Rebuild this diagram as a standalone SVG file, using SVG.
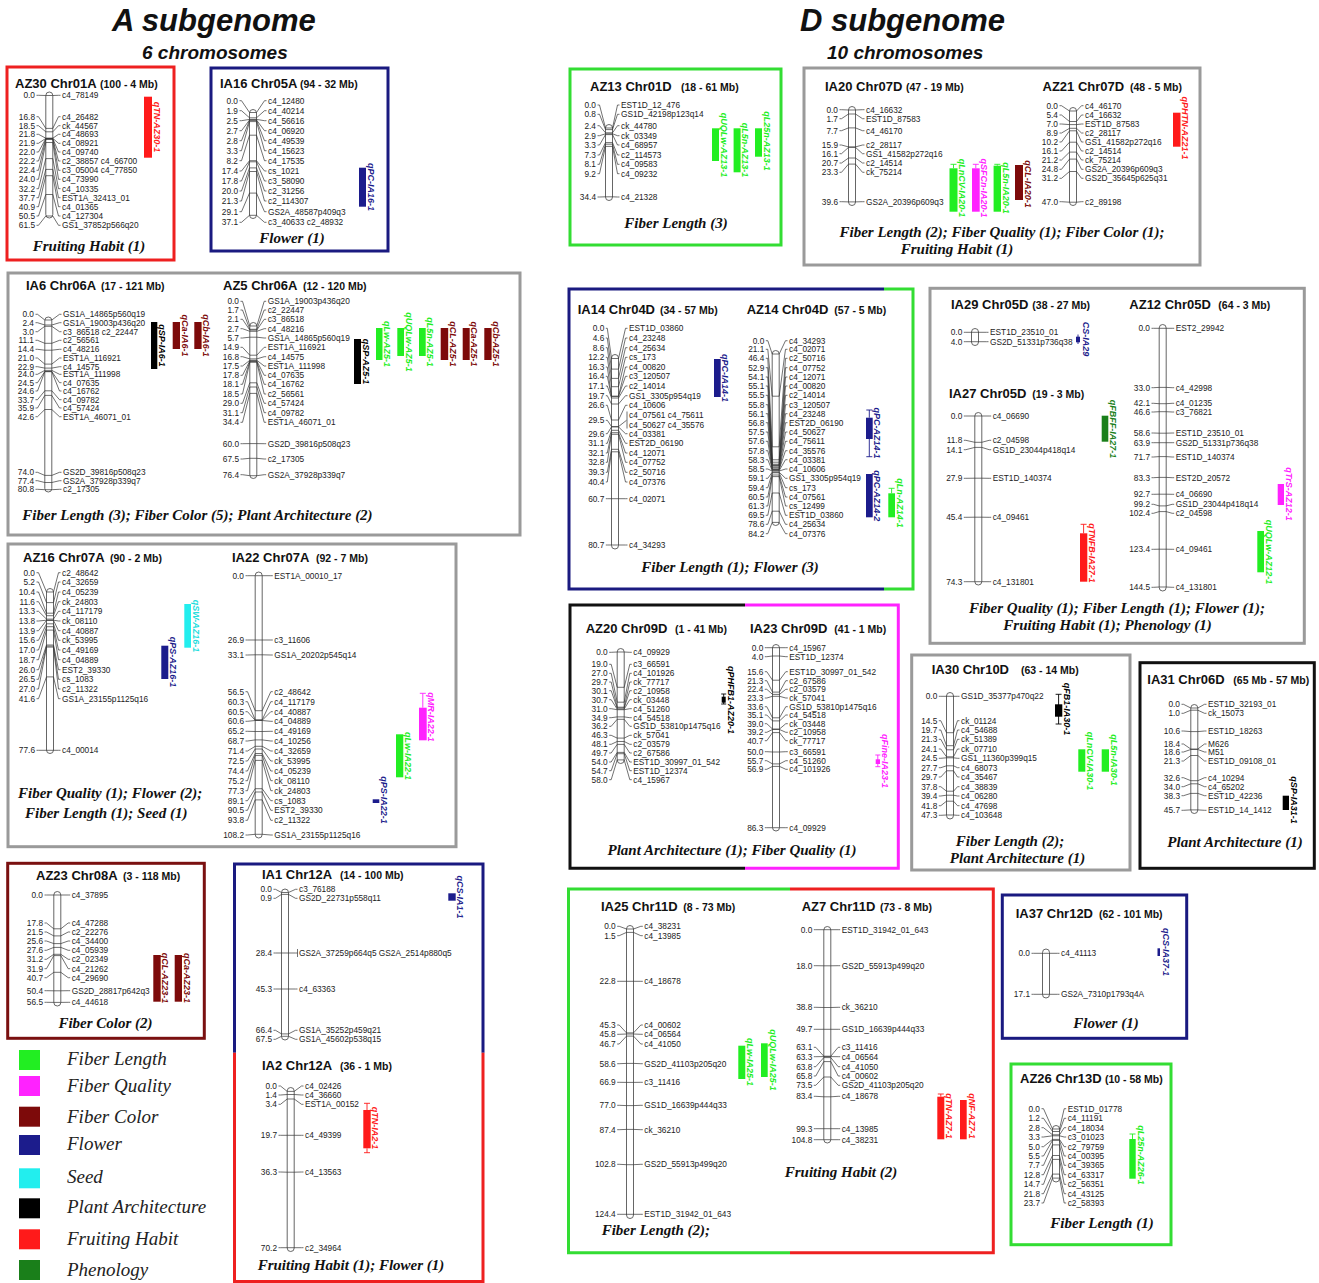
<svg xmlns="http://www.w3.org/2000/svg" width="1319" height="1283" viewBox="0 0 1319 1283">
<style>
text{font-family:"Liberation Sans",Arial,sans-serif}
.n{font-size:8.3px;text-anchor:end;fill:#222}
.m{font-size:8.3px;fill:#222}
.t{font-size:13px;font-weight:bold;fill:#111}
.r{font-size:10.5px;font-weight:bold;fill:#111}
.f{font-family:"Liberation Serif","Times New Roman",serif;font-size:15px;font-weight:bold;font-style:italic;text-anchor:middle;fill:#111}
.fs{text-anchor:start}
.q{font-size:9px;font-weight:bold;font-style:italic;text-anchor:middle}
.ch{fill:#fff;stroke:#555;stroke-width:0.9}
.ld path{fill:none;stroke:#333;stroke-width:0.7}
.lg{font-family:"Liberation Serif","Times New Roman",serif;font-size:19px;font-style:italic;fill:#222}
.h1{font-size:31px;font-weight:bold;font-style:italic;fill:#111}
.h2{font-size:19px;font-weight:bold;font-style:italic;fill:#111}
.bd{fill:none;stroke-width:3}
.wk{fill:none;stroke-width:0.9}
.G{fill:#22ee22}.M{fill:#ff22ff}.C{fill:#7d0a0a}.N{fill:#1c1c8c}.S{fill:#22eeee}.K{fill:#000}.R{fill:#ff1a1a}.P{fill:#1a7f1a}
</style>
<rect width="1319" height="1283" fill="#fff"/>
<g id="headings">
<text class="h1" x="112" y="31">A subgenome</text>
<text class="h2" x="142" y="59">6 chromosomes</text>
<text class="h1" x="800" y="31">D subgenome</text>
<text class="h2" x="827" y="59">10 chromosomes</text>
</g>

<!-- AZ30 -->
<g id="p-az30">
<rect class="bd" x="7" y="67" width="167" height="193" stroke="#ee2020"/>
<text class="t" x="15" y="88">AZ30 Chr01A</text><text class="r" x="100" y="88">(100 - 4 Mb)</text>
<rect class="ch" x="45.8" y="92" width="7" height="126" rx="3.5"/>
<text class="n"><tspan x="35" y="98.3">0.0</tspan><tspan x="35" y="119.7">16.8</tspan><tspan x="35" y="128.7">18.5</tspan><tspan x="35" y="137.3">21.8</tspan><tspan x="35" y="146.3">21.9</tspan><tspan x="35" y="155">22.0</tspan><tspan x="35" y="164">22.2</tspan><tspan x="35" y="173.3">22.4</tspan><tspan x="35" y="182.3">24.0</tspan><tspan x="35" y="191.7">32.2</tspan><tspan x="35" y="200.7">37.7</tspan><tspan x="35" y="209.7">40.9</tspan><tspan x="35" y="219">50.5</tspan><tspan x="35" y="228.3">61.5</tspan></text>
<text class="m"><tspan x="62" y="98.3">c4_78149</tspan><tspan x="62" y="119.7">c4_26482</tspan><tspan x="62" y="128.7">ck_44567</tspan><tspan x="62" y="137.3">c4_48693</tspan><tspan x="62" y="146.3">c4_08921</tspan><tspan x="62" y="155">c4_09740</tspan><tspan x="62" y="164">c2_38857 c4_66700</tspan><tspan x="62" y="173.3">c3_05004 c4_77850</tspan><tspan x="62" y="182.3">c4_73990</tspan><tspan x="62" y="191.7">c4_10335</tspan><tspan x="62" y="200.7">EST1A_32413_01</tspan><tspan x="62" y="209.7">c4_01365</tspan><tspan x="62" y="219">c4_127304</tspan><tspan x="62" y="228.3">GS1_37852p566q20</tspan></text>
<rect class="R" x="144" y="96.7" width="8" height="61"/>
<text class="q R" transform="translate(153.5,127) rotate(90)">qTN-AZ30-1</text>
<text class="f" x="89" y="251">Fruiting Habit (1)</text>
</g>

<!-- IA16 -->
<g id="p-ia16">
<rect class="bd" x="211" y="68" width="177" height="183" stroke="#1a1a80"/>
<text class="t" x="220" y="88">IA16 Chr05A</text><text class="r" x="300" y="88">(94 - 32 Mb)</text>
<rect class="ch" x="249.5" y="109.5" width="7" height="109" rx="3.5"/>
<text class="n"><tspan x="238" y="103.7">0.0</tspan><tspan x="238" y="113.7">1.9</tspan><tspan x="238" y="123.7">2.5</tspan><tspan x="238" y="133.7">2.7</tspan><tspan x="238" y="143.7">2.8</tspan><tspan x="238" y="153.7">3.3</tspan><tspan x="238" y="163.7">8.2</tspan><tspan x="238" y="174">17.4</tspan><tspan x="238" y="184">17.8</tspan><tspan x="238" y="194">20.0</tspan><tspan x="238" y="204">21.3</tspan><tspan x="238" y="214.7">29.1</tspan><tspan x="238" y="225.3">37.1</tspan></text>
<text class="m"><tspan x="268" y="103.7">c4_12480</tspan><tspan x="268" y="113.7">c4_40214</tspan><tspan x="268" y="123.7">c4_56616</tspan><tspan x="268" y="133.7">c4_06920</tspan><tspan x="268" y="143.7">c4_49539</tspan><tspan x="268" y="153.7">c4_15623</tspan><tspan x="268" y="163.7">c4_17535</tspan><tspan x="268" y="174">cs_1021</tspan><tspan x="268" y="184">c3_58090</tspan><tspan x="268" y="194">c2_31256</tspan><tspan x="268" y="204">c2_114307</tspan><tspan x="268" y="214.7">GS2A_48587p409q3</tspan><tspan x="268" y="225.3">c3_40633 c2_48932</tspan></text>
<rect class="N" x="359" y="167.7" width="7" height="39"/>
<text class="q N" transform="translate(367.5,187) rotate(90)">qPC-IA16-1</text>
<text class="f" x="292" y="243">Flower (1)</text>
</g>

<!-- IA6 / AZ5 -->
<g id="p-ia6-az5">
<rect class="bd" x="8" y="273" width="512" height="262" stroke="#9a9a9a"/>
<text class="t" x="26" y="290">IA6 Chr06A</text><text class="r" x="101" y="290">(17 - 121 Mb)</text>
<rect class="ch" x="44.8" y="317" width="7" height="175" rx="3.5"/>
<text class="n"><tspan x="34" y="317.3">0.0</tspan><tspan x="34" y="325.7">2.4</tspan><tspan x="34" y="334.7">3.0</tspan><tspan x="34" y="343.3">11.1</tspan><tspan x="34" y="352.3">14.4</tspan><tspan x="34" y="361">21.0</tspan><tspan x="34" y="369.7">22.9</tspan><tspan x="34" y="377.3">24.0</tspan><tspan x="34" y="385.7">24.5</tspan><tspan x="34" y="394">24.6</tspan><tspan x="34" y="402.7">33.7</tspan><tspan x="34" y="411">35.9</tspan><tspan x="34" y="419.7">42.6</tspan><tspan x="34" y="475.3">74.0</tspan><tspan x="34" y="483.7">77.4</tspan><tspan x="34" y="492.3">80.8</tspan></text>
<text class="m"><tspan x="63" y="317.3">GS1A_14865p560q19</tspan><tspan x="63" y="325.7">GS1A_19003p436q20</tspan><tspan x="63" y="334.7">c3_86518 c2_22447</tspan><tspan x="63" y="343.3">c2_56561</tspan><tspan x="63" y="352.3">c4_48216</tspan><tspan x="63" y="361">EST1A_116921</tspan><tspan x="63" y="369.7">c4_14575</tspan><tspan x="63" y="377.3">EST1A_111998</tspan><tspan x="63" y="385.7">c4_07635</tspan><tspan x="63" y="394">c4_16762</tspan><tspan x="63" y="402.7">c4_09782</tspan><tspan x="63" y="411">c4_57424</tspan><tspan x="63" y="419.7">EST1A_46071_01</tspan><tspan x="63" y="475.3">GS2D_39816p508q23</tspan><tspan x="63" y="483.7">GS2A_37928p339q7</tspan><tspan x="63" y="492.3">c2_17305</tspan></text>
<rect class="K" x="151" y="322" width="6.3" height="47"/>
<text class="q K" transform="translate(158.8,345.5) rotate(90)">qSP-IA6-1</text>
<rect class="C" x="172.7" y="322" width="7.3" height="27"/>
<text class="q C" transform="translate(181.5,335.5) rotate(90)">qCa-IA6-1</text>
<rect class="C" x="194.3" y="322" width="7.3" height="27"/>
<text class="q C" transform="translate(203,335.5) rotate(90)">qCb-IA6-1</text>

<text class="t" x="223" y="290">AZ5 Chr06A</text><text class="r" x="303" y="290">(12 - 120 Mb)</text>
<rect class="ch" x="249.8" y="322.5" width="7" height="156" rx="3.5"/>
<text class="n"><tspan x="239" y="304.3">0.0</tspan><tspan x="239" y="313">1.7</tspan><tspan x="239" y="322.3">2.1</tspan><tspan x="239" y="331.7">2.7</tspan><tspan x="239" y="341">5.7</tspan><tspan x="239" y="350.3">14.9</tspan><tspan x="239" y="359.7">16.8</tspan><tspan x="239" y="369">17.5</tspan><tspan x="239" y="378.3">17.8</tspan><tspan x="239" y="387.3">18.1</tspan><tspan x="239" y="397">18.5</tspan><tspan x="239" y="406.3">29.0</tspan><tspan x="239" y="415.7">31.1</tspan><tspan x="239" y="425.3">34.4</tspan><tspan x="239" y="446.7">60.0</tspan><tspan x="239" y="462">67.5</tspan><tspan x="239" y="477.7">76.4</tspan></text>
<text class="m"><tspan x="267.7" y="304.3">GS1A_19003p436q20</tspan><tspan x="267.7" y="313">c2_22447</tspan><tspan x="267.7" y="322.3">c3_86518</tspan><tspan x="267.7" y="331.7">c4_48216</tspan><tspan x="267.7" y="341">GS1A_14865p560q19</tspan><tspan x="267.7" y="350.3">EST1A_116921</tspan><tspan x="267.7" y="359.7">c4_14575</tspan><tspan x="267.7" y="369">EST1A_111998</tspan><tspan x="267.7" y="378.3">c4_07635</tspan><tspan x="267.7" y="387.3">c4_16762</tspan><tspan x="267.7" y="397">c2_56561</tspan><tspan x="267.7" y="406.3">c4_57424</tspan><tspan x="267.7" y="415.7">c4_09782</tspan><tspan x="267.7" y="425.3">EST1A_46071_01</tspan><tspan x="267.7" y="446.7">GS2D_39816p508q23</tspan><tspan x="267.7" y="462">c2_17305</tspan><tspan x="267.7" y="477.7">GS2A_37928p339q7</tspan></text>
<rect class="K" x="354" y="339" width="7" height="45"/>
<text class="q K" transform="translate(362.5,361.5) rotate(90)">qSP-AZ5-1</text>
<rect class="G" x="376" y="328" width="6.5" height="32"/>
<text class="q G" transform="translate(384,344) rotate(90)">qLw-AZ5-1</text>
<rect class="G" x="397.3" y="328" width="6.7" height="28"/>
<text class="q G" transform="translate(405.5,342) rotate(90)">qUQLw-AZ5-1</text>
<rect class="G" x="419" y="328" width="6.7" height="28"/>
<text class="q G" transform="translate(427.2,342) rotate(90)">qL5n-AZ5-1</text>
<rect class="C" x="440.7" y="328" width="7.5" height="32"/>
<text class="q C" transform="translate(449.7,344) rotate(90)">qCL-AZ5-1</text>
<rect class="C" x="462.7" y="328" width="7" height="32"/>
<text class="q C" transform="translate(471.2,344) rotate(90)">qCa-AZ5-1</text>
<rect class="C" x="484.3" y="328" width="7.3" height="32"/>
<text class="q C" transform="translate(493,344) rotate(90)">qCb-AZ5-1</text>
<text class="f" x="197.5" y="520">Fiber Length (3); Fiber Color (5);  Plant Architecture (2)</text>
</g>

<!-- AZ16 / IA22 -->
<g id="p-az16-ia22">
<rect class="bd" x="8" y="544" width="448" height="302.7" stroke="#9a9a9a"/>
<text class="t" x="23" y="561.5">AZ16 Chr07A</text><text class="r" x="110" y="561.5">(90 - 2 Mb)</text>
<rect class="ch" x="46.5" y="588.5" width="7" height="165" rx="3.5"/>
<text class="n"><tspan x="35" y="575.7">0.0</tspan><tspan x="35" y="585">5.2</tspan><tspan x="35" y="595">10.4</tspan><tspan x="35" y="604.7">11.6</tspan><tspan x="35" y="614.3">13.3</tspan><tspan x="35" y="624">13.8</tspan><tspan x="35" y="633.7">13.9</tspan><tspan x="35" y="643.3">15.6</tspan><tspan x="35" y="653">17.0</tspan><tspan x="35" y="662.7">18.7</tspan><tspan x="35" y="672.7">26.0</tspan><tspan x="35" y="682.3">26.5</tspan><tspan x="35" y="692">27.0</tspan><tspan x="35" y="701.7">41.6</tspan><tspan x="35" y="753.3">77.6</tspan></text>
<text class="m"><tspan x="62" y="575.7">c2_48642</tspan><tspan x="62" y="585">c4_32659</tspan><tspan x="62" y="595">c4_05239</tspan><tspan x="62" y="604.7">ck_24803</tspan><tspan x="62" y="614.3">c4_117179</tspan><tspan x="62" y="624">ck_08110</tspan><tspan x="62" y="633.7">c4_40887</tspan><tspan x="62" y="643.3">ck_53995</tspan><tspan x="62" y="653">c4_49169</tspan><tspan x="62" y="662.7">c4_04889</tspan><tspan x="62" y="672.7">EST2_39330</tspan><tspan x="62" y="682.3">cs_1083</tspan><tspan x="62" y="692">c2_11322</tspan><tspan x="62" y="701.7">GS1A_23155p1125q16</tspan><tspan x="62" y="753.3">c4_00014</tspan></text>
<rect class="S" x="184.3" y="604" width="6.7" height="43.7"/>
<text class="q" fill="#22dddd" transform="translate(192.5,626) rotate(90)">qSW-AZ16-1</text>
<rect class="N" x="161.3" y="645.7" width="7" height="33.3"/>
<text class="q N" transform="translate(169.8,662) rotate(90)">qPS-AZ16-1</text>

<text class="t" x="232" y="561.5">IA22 Chr07A</text><text class="r" x="316" y="561.5">(92 - 7 Mb)</text>
<rect class="ch" x="255.2" y="572" width="7" height="266" rx="3.5"/>
<text class="n"><tspan x="244" y="578.7">0.0</tspan><tspan x="244" y="643">26.9</tspan><tspan x="244" y="658">33.1</tspan><tspan x="244" y="694.7">56.5</tspan><tspan x="244" y="704.7">60.3</tspan><tspan x="244" y="714.7">60.5</tspan><tspan x="244" y="724.3">60.6</tspan><tspan x="244" y="734.3">65.2</tspan><tspan x="244" y="744">68.7</tspan><tspan x="244" y="754">71.4</tspan><tspan x="244" y="764">72.5</tspan><tspan x="244" y="774">74.4</tspan><tspan x="244" y="783.7">75.2</tspan><tspan x="244" y="793.7">77.3</tspan><tspan x="244" y="803.7">89.1</tspan><tspan x="244" y="813.3">90.5</tspan><tspan x="244" y="823.3">93.8</tspan><tspan x="244" y="838">108.2</tspan></text>
<text class="m"><tspan x="274.3" y="578.7">EST1A_00010_17</tspan><tspan x="274.3" y="643">c3_11606</tspan><tspan x="274.3" y="658">GS1A_20202p545q14</tspan><tspan x="274.3" y="694.7">c2_48642</tspan><tspan x="274.3" y="704.7">c4_117179</tspan><tspan x="274.3" y="714.7">c4_40887</tspan><tspan x="274.3" y="724.3">c4_04889</tspan><tspan x="274.3" y="734.3">c4_49169</tspan><tspan x="274.3" y="744">c4_10256</tspan><tspan x="274.3" y="754">c4_32659</tspan><tspan x="274.3" y="764">ck_53995</tspan><tspan x="274.3" y="774">c4_05239</tspan><tspan x="274.3" y="783.7">ck_08110</tspan><tspan x="274.3" y="793.7">ck_24803</tspan><tspan x="274.3" y="803.7">cs_1083</tspan><tspan x="274.3" y="813.3">EST2_39330</tspan><tspan x="274.3" y="823.3">c2_11322</tspan><tspan x="274.3" y="838">GS1A_23155p1125q16</tspan></text>
<path class="wk" stroke="#ff22ff" d="M422.8 693.3V707.7M419.8 693.3H425.8"/>
<rect class="M" x="419" y="707.7" width="7.7" height="32.6"/>
<text class="q M" transform="translate(428.2,717) rotate(90)">qMR-IA22-1</text>
<rect class="G" x="396" y="734.3" width="7.3" height="43"/>
<text class="q G" transform="translate(404.8,756) rotate(90)">qLw-IA22-1</text>
<rect class="N" x="372.7" y="799.3" width="6.6" height="3.7"/>
<text class="q N" transform="translate(380.8,800) rotate(90)">qPS-IA22-1</text>
<text class="f fs" x="18" y="798">Fiber Quality (1); Flower (2);</text>
<text class="f fs" x="25" y="818">Fiber Length (1); Seed (1)</text>
</g>

<!-- AZ23 -->
<g id="p-az23">
<rect class="bd" x="7.7" y="863.3" width="196.6" height="175" stroke="#7a1010"/>
<text class="t" x="36" y="880">AZ23 Chr08A</text><text class="r" x="123" y="880">(3 - 118 Mb)</text>
<rect class="ch" x="53.8" y="891.5" width="7" height="114.5" rx="3.5"/>
<text class="n"><tspan x="43" y="898">0.0</tspan><tspan x="43" y="926">17.8</tspan><tspan x="43" y="935">21.5</tspan><tspan x="43" y="944">25.6</tspan><tspan x="43" y="953.3">27.6</tspan><tspan x="43" y="962.3">31.2</tspan><tspan x="43" y="971.7">31.9</tspan><tspan x="43" y="980.7">40.7</tspan><tspan x="43" y="993.7">50.4</tspan><tspan x="43" y="1005.3">56.5</tspan></text>
<text class="m"><tspan x="71.7" y="898">c4_37895</tspan><tspan x="71.7" y="926">c4_47288</tspan><tspan x="71.7" y="935">c2_22276</tspan><tspan x="71.7" y="944">c4_34400</tspan><tspan x="71.7" y="953.3">c4_05939</tspan><tspan x="71.7" y="962.3">c2_02349</tspan><tspan x="71.7" y="971.7">c4_21262</tspan><tspan x="71.7" y="980.7">c4_29690</tspan><tspan x="71.7" y="993.7">GS2D_28817p642q3</tspan><tspan x="71.7" y="1005.3">c4_44618</tspan></text>
<rect class="C" x="153.3" y="955" width="7.4" height="46.7"/>
<text class="q C" transform="translate(162.2,978) rotate(90)">qCL-AZ23-1</text>
<rect class="C" x="174.7" y="955" width="7.3" height="46.7"/>
<text class="q C" transform="translate(183.5,978) rotate(90)">qCa-AZ23-1</text>
<text class="f" x="105.5" y="1028">Fiber Color (2)</text>
</g>

<!-- Legend -->
<g id="legend">
<rect class="G" x="19" y="1050" width="21" height="20"/><text class="lg" x="67" y="1065">Fiber Length</text>
<rect class="M" x="19" y="1076" width="21" height="20"/><text class="lg" x="67" y="1092">Fiber Quality</text>
<rect class="C" x="19" y="1106.7" width="21" height="20"/><text class="lg" x="67" y="1123">Fiber Color</text>
<rect class="N" x="19" y="1135" width="21" height="20"/><text class="lg" x="67" y="1150">Flower</text>
<rect class="S" x="19" y="1168.3" width="21" height="20"/><text class="lg" x="67" y="1183">Seed</text>
<rect class="K" x="19" y="1198.3" width="21" height="20"/><text class="lg" x="67" y="1213">Plant Architecture</text>
<rect class="R" x="19" y="1229.3" width="21" height="20"/><text class="lg" x="67" y="1245">Fruiting Habit</text>
<rect class="P" x="19" y="1260" width="21" height="20"/><text class="lg" x="67" y="1276">Phenology</text>
</g>

<!-- IA1 / IA2 -->
<g id="p-ia1-ia2">
<path class="bd" stroke="#1a1a80" d="M234.5 1052.7V864H483V1052.7"/>
<path class="bd" stroke="#ee2020" d="M234.5 1052.7V1281.5H483V1052.7"/>
<text class="t" x="262" y="879">IA1 Chr12A</text><text class="r" x="340" y="879">(14 - 100 Mb)</text>
<rect class="ch" x="281.5" y="889" width="7" height="151" rx="3.5"/>
<text class="n"><tspan x="272" y="892.3">0.0</tspan><tspan x="272" y="901.3">0.9</tspan><tspan x="272" y="956">28.4</tspan><tspan x="272" y="992">45.3</tspan><tspan x="272" y="1033.3">66.4</tspan><tspan x="272" y="1042.3">67.5</tspan></text>
<text class="m"><tspan x="299" y="892.3">c3_76188</tspan><tspan x="299" y="901.3">GS2D_22731p558q11</tspan><tspan x="299" y="956">GS2A_37259p664q5 GS2A_2514p880q5</tspan><tspan x="299" y="992">c4_63363</tspan><tspan x="299" y="1033.3">GS1A_35252p459q21</tspan><tspan x="299" y="1042.3">GS1A_45602p538q15</tspan></text>
<rect class="N" x="448.3" y="893.3" width="7.4" height="7.4"/>
<text class="q N" transform="translate(457.2,897) rotate(90)">qCS-IA1-1</text>
<text class="t" x="262" y="1070">IA2 Chr12A</text><text class="r" x="340" y="1070">(36 - 1 Mb)</text>
<rect class="ch" x="287.2" y="1087.5" width="7" height="164" rx="3.5"/>
<text class="n"><tspan x="277" y="1089">0.0</tspan><tspan x="277" y="1098">1.4</tspan><tspan x="277" y="1107.3">3.4</tspan><tspan x="277" y="1138.3">19.7</tspan><tspan x="277" y="1175">36.3</tspan><tspan x="277" y="1250.7">70.2</tspan></text>
<text class="m"><tspan x="305" y="1089">c4_02426</tspan><tspan x="305" y="1098">c4_36660</tspan><tspan x="305" y="1107.3">EST1A_00152</tspan><tspan x="305" y="1138.3">c4_49399</tspan><tspan x="305" y="1175">c4_13563</tspan><tspan x="305" y="1250.7">c2_34964</tspan></text>
<path class="wk" stroke="#ff1a1a" d="M367 1103.3V1110M364 1103.3H370M367 1148.3V1152.7M364 1152.7H370"/>
<rect class="R" x="363.3" y="1110" width="7.4" height="38.3"/>
<text class="q R" transform="translate(372.2,1128) rotate(90)">qTN-IA2-1</text>
<text class="f" x="351" y="1270">Fruiting Habit (1); Flower (1)</text>
</g>

<!-- AZ13 -->
<g id="p-az13">
<rect class="bd" x="570" y="69" width="211" height="176" stroke="#33dd33"/>
<text class="t" x="590" y="91">AZ13 Chr01D</text><text class="r" x="681" y="91">(18 - 61 Mb)</text>
<rect class="ch" x="605.5" y="124.5" width="7" height="76" rx="3.5"/>
<text class="n"><tspan x="596" y="108">0.0</tspan><tspan x="596" y="117.3">0.8</tspan><tspan x="596" y="128.7">2.4</tspan><tspan x="596" y="138.7">2.9</tspan><tspan x="596" y="148">3.3</tspan><tspan x="596" y="158">7.3</tspan><tspan x="596" y="167.3">8.1</tspan><tspan x="596" y="176.7">9.2</tspan><tspan x="596" y="200">34.4</tspan></text>
<text class="m"><tspan x="621" y="108">EST1D_12_476</tspan><tspan x="621" y="117.3">GS1D_42198p123q14</tspan><tspan x="621" y="128.7">ck_44780</tspan><tspan x="621" y="138.7">ck_03349</tspan><tspan x="621" y="148">c4_68957</tspan><tspan x="621" y="158">c2_114573</tspan><tspan x="621" y="167.3">c4_09583</tspan><tspan x="621" y="176.7">c4_09232</tspan><tspan x="621" y="200">c4_21328</tspan></text>
<rect class="G" x="712" y="128.3" width="7" height="32.7"/>
<text class="q G" transform="translate(720.5,145) rotate(90)">qUQLw-AZ13-1</text>
<rect class="G" x="733.6" y="128.3" width="7" height="44"/>
<text class="q G" transform="translate(742,150) rotate(90)">qL5n-AZ13-1</text>
<rect class="G" x="755" y="128.3" width="7" height="28.4"/>
<text class="q G" transform="translate(763.5,141) rotate(90)">qL25n-AZ13-1</text>
<text class="f" x="676" y="228">Fiber Length (3)</text>
</g>

<!-- IA20 / AZ21 -->
<g id="p-ia20-az21">
<rect class="bd" x="804" y="68" width="396" height="197" stroke="#9a9a9a"/>
<text class="t" x="825" y="91">IA20 Chr07D</text><text class="r" x="906" y="91">(47 - 19 Mb)</text>
<rect class="ch" x="848.5" y="106.5" width="7" height="99" rx="3.5"/>
<text class="n"><tspan x="838" y="112.7">0.0</tspan><tspan x="838" y="121.7">1.7</tspan><tspan x="838" y="133.7">7.7</tspan><tspan x="838" y="148">15.9</tspan><tspan x="838" y="156.7">16.1</tspan><tspan x="838" y="166">20.7</tspan><tspan x="838" y="175.3">23.3</tspan><tspan x="838" y="204.7">39.6</tspan></text>
<text class="m"><tspan x="866" y="112.7">c4_16632</tspan><tspan x="866" y="121.7">EST1D_87583</tspan><tspan x="866" y="133.7">c4_46170</tspan><tspan x="866" y="148">c2_28117</tspan><tspan x="866" y="156.7">GS1_41582p272q16</tspan><tspan x="866" y="166">c2_14514</tspan><tspan x="866" y="175.3">ck_75214</tspan><tspan x="866" y="204.7">GS2A_20396p609q3</tspan></text>
<path class="wk" stroke="#22ee22" d="M953.5 164.3V168.3M950.5 164.3H956.5M997.3 164.3V165.7M994.3 164.3H1000.3"/>
<path class="wk" stroke="#ff22ff" d="M975.8 164.3V168.3M972.8 164.3H978.8"/>
<rect class="G" x="949.5" y="168.3" width="8" height="43.4"/>
<text class="q G" transform="translate(959,188) rotate(90)">qLnCV-IA20-1</text>
<rect class="M" x="972" y="168.3" width="7.7" height="43.4"/>
<text class="q M" transform="translate(981.2,188) rotate(90)">qSFCn-IA20-1</text>
<rect class="G" x="993.6" y="165.7" width="7.4" height="46"/>
<text class="q G" transform="translate(1002.5,188) rotate(90)">qL5n-IA20-1</text>
<rect class="C" x="1015" y="165" width="8" height="35"/>
<text class="q C" transform="translate(1024.5,184) rotate(90)">qCL-IA20-1</text>

<text class="t" x="1042.5" y="91">AZ21 Chr07D</text><text class="r" x="1130" y="91">(48 - 5 Mb)</text>
<rect class="ch" x="1069.5" y="107.5" width="7" height="98" rx="3.5"/>
<text class="n"><tspan x="1058" y="108.7">0.0</tspan><tspan x="1058" y="118">5.4</tspan><tspan x="1058" y="127">7.0</tspan><tspan x="1058" y="136">8.9</tspan><tspan x="1058" y="145">10.2</tspan><tspan x="1058" y="154">16.1</tspan><tspan x="1058" y="163">21.2</tspan><tspan x="1058" y="172.3">24.8</tspan><tspan x="1058" y="181.3">31.2</tspan><tspan x="1058" y="204.7">47.0</tspan></text>
<text class="m"><tspan x="1085" y="108.7">c4_46170</tspan><tspan x="1085" y="118">c4_16632</tspan><tspan x="1085" y="127">EST1D_87583</tspan><tspan x="1085" y="136">c2_28117</tspan><tspan x="1085" y="145">GS1_41582p272q16</tspan><tspan x="1085" y="154">c2_14514</tspan><tspan x="1085" y="163">ck_75214</tspan><tspan x="1085" y="172.3">GS2A_20396p609q3</tspan><tspan x="1085" y="181.3">GS2D_35645p625q31</tspan><tspan x="1085" y="204.7">c2_89198</tspan></text>
<rect class="R" x="1173" y="112.7" width="7.5" height="34"/>
<text class="q R" transform="translate(1182,128) rotate(90)">qPHTN-AZ21-1</text>
<text class="f" x="1002" y="237">Fiber Length (2); Fiber Quality (1); Fiber Color (1);</text>
<text class="f" x="957" y="254">Fruiting Habit (1)</text>
</g>

<!-- IA14 / AZ14 -->
<g id="p-ia14-az14">
<path class="bd" stroke="#1a1a80" d="M884 289H569V589H884"/>
<path class="bd" stroke="#33dd33" d="M884 289H913V589H884"/>
<text class="t" x="577.7" y="314">IA14 Chr04D</text><text class="r" x="660" y="314">(34 - 57 Mb)</text>
<rect class="ch" x="611.5" y="354.5" width="7" height="194.5" rx="3.5"/>
<text class="n"><tspan x="604.3" y="331.3">0.0</tspan><tspan x="604.3" y="341">4.6</tspan><tspan x="604.3" y="350.7">8.6</tspan><tspan x="604.3" y="360.3">12.2</tspan><tspan x="604.3" y="370">16.3</tspan><tspan x="604.3" y="379.3">16.4</tspan><tspan x="604.3" y="389">17.1</tspan><tspan x="604.3" y="398.7">19.7</tspan><tspan x="604.3" y="408.3">26.6</tspan><tspan x="604.3" y="423.3">29.5</tspan><tspan x="604.3" y="436.7">29.6</tspan><tspan x="604.3" y="446.3">31.1</tspan><tspan x="604.3" y="456">32.1</tspan><tspan x="604.3" y="465.3">32.8</tspan><tspan x="604.3" y="475.3">39.3</tspan><tspan x="604.3" y="485">40.4</tspan><tspan x="604.3" y="501.7">60.7</tspan><tspan x="604.3" y="548">80.7</tspan></text>
<text class="m"><tspan x="629" y="331.3">EST1D_03860</tspan><tspan x="629" y="341">c4_23248</tspan><tspan x="629" y="350.7">c4_25634</tspan><tspan x="629" y="360.3">cs_173</tspan><tspan x="629" y="370">c4_00820</tspan><tspan x="629" y="379.3">c3_120507</tspan><tspan x="629" y="389">c2_14014</tspan><tspan x="629" y="398.7">GS1_3305p954q19</tspan><tspan x="629" y="408.3">c4_10606</tspan><tspan x="629" y="418">c4_07561 c4_75611</tspan><tspan x="629" y="428">c4_50627 c4_35576</tspan><tspan x="629" y="436.7">c4_03381</tspan><tspan x="629" y="446.3">EST2D_06190</tspan><tspan x="629" y="456">c4_12071</tspan><tspan x="629" y="465.3">c4_07752</tspan><tspan x="629" y="475.3">c2_50716</tspan><tspan x="629" y="485">c4_07376</tspan><tspan x="629" y="501.7">c4_02071</tspan><tspan x="629" y="548">c4_34293</tspan></text>
<rect class="N" x="714" y="359" width="6.7" height="38"/>
<text class="q N" transform="translate(722.2,378) rotate(90)">qPC-IA14-1</text>

<text class="t" x="746.7" y="314">AZ14 Chr04D</text><text class="r" x="834.3" y="314">(57 - 5 Mb)</text>
<rect class="ch" x="772.2" y="350.5" width="7" height="175" rx="3.5"/>
<text class="n"><tspan x="764.3" y="343.7">0.0</tspan><tspan x="764.3" y="352.3">21.1</tspan><tspan x="764.3" y="361.3">46.4</tspan><tspan x="764.3" y="370.7">52.9</tspan><tspan x="764.3" y="380">54.1</tspan><tspan x="764.3" y="389">55.1</tspan><tspan x="764.3" y="398.3">55.5</tspan><tspan x="764.3" y="407.7">55.8</tspan><tspan x="764.3" y="416.7">56.1</tspan><tspan x="764.3" y="425.7">56.8</tspan><tspan x="764.3" y="435">57.5</tspan><tspan x="764.3" y="444.3">57.6</tspan><tspan x="764.3" y="453.7">57.8</tspan><tspan x="764.3" y="462.7">58.3</tspan><tspan x="764.3" y="472">58.5</tspan><tspan x="764.3" y="481.3">59.1</tspan><tspan x="764.3" y="490.7">59.4</tspan><tspan x="764.3" y="500">60.5</tspan><tspan x="764.3" y="509">61.3</tspan><tspan x="764.3" y="518.3">69.5</tspan><tspan x="764.3" y="527.3">78.6</tspan><tspan x="764.3" y="536.7">84.2</tspan></text>
<text class="m"><tspan x="789" y="343.7">c4_34293</tspan><tspan x="789" y="352.3">c4_02071</tspan><tspan x="789" y="361.3">c2_50716</tspan><tspan x="789" y="370.7">c4_07752</tspan><tspan x="789" y="380">c4_12071</tspan><tspan x="789" y="389">c4_00820</tspan><tspan x="789" y="398.3">c2_14014</tspan><tspan x="789" y="407.7">c3_120507</tspan><tspan x="789" y="416.7">c4_23248</tspan><tspan x="789" y="425.7">EST2D_06190</tspan><tspan x="789" y="435">c4_50627</tspan><tspan x="789" y="444.3">c4_75611</tspan><tspan x="789" y="453.7">c4_35576</tspan><tspan x="789" y="462.7">c4_03381</tspan><tspan x="789" y="472">c4_10606</tspan><tspan x="789" y="481.3">GS1_3305p954q19</tspan><tspan x="789" y="490.7">cs_173</tspan><tspan x="789" y="500">c4_07561</tspan><tspan x="789" y="509">cs_12499</tspan><tspan x="789" y="518.3">EST1D_03860</tspan><tspan x="789" y="527.3">c4_25634</tspan><tspan x="789" y="536.7">c4_07376</tspan></text>
<path class="wk" stroke="#1c1c8c" d="M869.3 410V417.7M866.3 410H872.3M869.3 439V456.7M866.3 456.7H872.3"/>
<rect class="N" x="866" y="417.7" width="6.7" height="21.3"/>
<text class="q N" transform="translate(874.2,433) rotate(90)">qPC-AZ14-1</text>
<rect class="N" x="866" y="474" width="6.7" height="43.3"/>
<text class="q N" transform="translate(874.2,495.7) rotate(90)">qPC-AZ14-2</text>
<path class="wk" stroke="#22ee22" d="M891.6 488.3V493.3M888.6 488.3H894.6"/>
<rect class="G" x="888.3" y="493.3" width="6.7" height="24"/>
<text class="q G" transform="translate(896.5,503) rotate(90)">qLn-AZ14-1</text>
<text class="f" x="730" y="572">Fiber Length (1); Flower (3)</text>
</g>

<!-- Chr05D -->
<g id="p-chr05d">
<rect class="bd" x="930" y="288.3" width="374.3" height="355" stroke="#9a9a9a"/>
<text class="t" x="951" y="309">IA29 Chr05D</text><text class="r" x="1032.3" y="309">(38 - 27 Mb)</text>
<rect class="ch" x="971.5" y="328.5" width="7" height="17" rx="3.5"/>
<text class="n"><tspan x="962.3" y="335.3">0.0</tspan><tspan x="962.3" y="344.7">4.0</tspan></text>
<text class="m"><tspan x="990" y="335.3">EST1D_23510_01</tspan><tspan x="990" y="344.7">GS2D_51331p736q38</tspan></text>
<path class="wk" stroke="#1c1c8c" d="M1078 334.5V344"/>
<rect class="N" x="1076" y="336.7" width="4" height="5.6"/>
<text class="q N" transform="translate(1083,339) rotate(90)">CS-IA29</text>

<text class="t" x="949" y="397.5">IA27 Chr05D</text><text class="r" x="1032.3" y="397.5">(19 - 3 Mb)</text>
<rect class="ch" x="974.8" y="412.5" width="7" height="172.5" rx="3.5"/>
<text class="n"><tspan x="962.3" y="419">0.0</tspan><tspan x="962.3" y="443.3">11.8</tspan><tspan x="962.3" y="452.7">14.1</tspan><tspan x="962.3" y="481.3">27.9</tspan><tspan x="962.3" y="520.3">45.4</tspan><tspan x="962.3" y="584.7">74.3</tspan></text>
<text class="m"><tspan x="992.7" y="419">c4_06690</tspan><tspan x="992.7" y="443.3">c2_04598</tspan><tspan x="992.7" y="452.7">GS1D_23044p418q14</tspan><tspan x="992.7" y="481.3">EST1D_140374</tspan><tspan x="992.7" y="520.3">c4_09461</tspan><tspan x="992.7" y="584.7">c4_131801</tspan></text>
<rect class="P" x="1101.7" y="415.7" width="6.6" height="26"/>
<text class="q P" transform="translate(1110,429) rotate(90)">qFBFF-IA27-1</text>
<path class="wk" stroke="#ff1a1a" d="M1083.6 524.3V533.3M1080.6 524.3H1086.6"/>
<rect class="R" x="1080" y="533.3" width="7.3" height="48.4"/>
<text class="q R" transform="translate(1089,553) rotate(90)">qTNFB-IA27-1</text>

<text class="t" x="1129.3" y="309">AZ12 Chr05D</text><text class="r" x="1218.3" y="309">(64 - 3 Mb)</text>
<rect class="ch" x="1159.2" y="324.5" width="7" height="266.5" rx="3.5"/>
<text class="n"><tspan x="1150" y="331.3">0.0</tspan><tspan x="1150" y="390.7">33.0</tspan><tspan x="1150" y="406.3">42.1</tspan><tspan x="1150" y="415">46.6</tspan><tspan x="1150" y="436">58.6</tspan><tspan x="1150" y="445.7">63.9</tspan><tspan x="1150" y="460">71.7</tspan><tspan x="1150" y="480.7">83.3</tspan><tspan x="1150" y="497.3">92.7</tspan><tspan x="1150" y="507.3">99.2</tspan><tspan x="1150" y="516.3">102.4</tspan><tspan x="1150" y="552.3">123.4</tspan><tspan x="1150" y="590.3">144.5</tspan></text>
<text class="m"><tspan x="1175.7" y="331.3">EST2_29942</tspan><tspan x="1175.7" y="390.7">c4_42998</tspan><tspan x="1175.7" y="406.3">c4_01235</tspan><tspan x="1175.7" y="415">c3_76821</tspan><tspan x="1175.7" y="436">EST1D_23510_01</tspan><tspan x="1175.7" y="445.7">GS2D_51331p736q38</tspan><tspan x="1175.7" y="460">EST1D_140374</tspan><tspan x="1175.7" y="480.7">EST2D_20572</tspan><tspan x="1175.7" y="497.3">c4_06690</tspan><tspan x="1175.7" y="507.3">GS1D_23044p418q14</tspan><tspan x="1175.7" y="516.3">c2_04598</tspan><tspan x="1175.7" y="552.3">c4_09461</tspan><tspan x="1175.7" y="590.3">c4_131801</tspan></text>
<rect class="M" x="1277.7" y="484" width="6.3" height="21"/>
<text class="q M" transform="translate(1285.5,494) rotate(90)">qTrS-AZ12-1</text>
<rect class="G" x="1257.3" y="531" width="6.7" height="41.3"/>
<text class="q G" transform="translate(1265.5,552) rotate(90)">qUQLw-AZ12-1</text>
<text class="f" x="1117" y="613">Fiber Quality (1); Fiber Length (1); Flower (1);</text>
<text class="f" x="1107.5" y="630">Fruiting Habit (1); Phenology (1)</text>
</g>

<!-- Chr09D -->
<g id="p-chr09d">
<path class="bd" stroke="#111" d="M745 605H570V868.3H745"/>
<path class="bd" stroke="#ff22ff" d="M745 605H898.3V868.3H745"/>
<text class="t" x="585.7" y="632.5">AZ20 Chr09D</text><text class="r" x="675" y="632.5">(1 - 41 Mb)</text>
<rect class="ch" x="617.2" y="648.5" width="7" height="115" rx="3.5"/>
<text class="n"><tspan x="607.7" y="655.3">0.0</tspan><tspan x="607.7" y="667.3">19.0</tspan><tspan x="607.7" y="676.3">27.0</tspan><tspan x="607.7" y="685">29.7</tspan><tspan x="607.7" y="693.7">30.1</tspan><tspan x="607.7" y="702.7">30.7</tspan><tspan x="607.7" y="711.7">31.0</tspan><tspan x="607.7" y="720.7">34.9</tspan><tspan x="607.7" y="729.3">36.2</tspan><tspan x="607.7" y="738.3">46.3</tspan><tspan x="607.7" y="747.3">48.1</tspan><tspan x="607.7" y="756">49.7</tspan><tspan x="607.7" y="765">54.0</tspan><tspan x="607.7" y="773.7">54.7</tspan><tspan x="607.7" y="782.7">58.0</tspan></text>
<text class="m"><tspan x="633.3" y="655.3">c4_09929</tspan><tspan x="633.3" y="667.3">c3_66591</tspan><tspan x="633.3" y="676.3">c4_101926</tspan><tspan x="633.3" y="685">ck_77717</tspan><tspan x="633.3" y="693.7">c2_10958</tspan><tspan x="633.3" y="702.7">ck_03448</tspan><tspan x="633.3" y="711.7">c4_51260</tspan><tspan x="633.3" y="720.7">c4_54518</tspan><tspan x="633.3" y="729.3">GS1D_53810p1475q16</tspan><tspan x="633.3" y="738.3">ck_57041</tspan><tspan x="633.3" y="747.3">c2_03579</tspan><tspan x="633.3" y="756">c2_67586</tspan><tspan x="633.3" y="765">EST1D_30997_01_542</tspan><tspan x="633.3" y="773.7">EST1D_12374</tspan><tspan x="633.3" y="782.7">c4_15967</tspan></text>
<path class="wk" stroke="#000" d="M723.7 694V704M721.2 694H726.2M721.2 704H726.2"/>
<rect class="K" x="721.7" y="696.7" width="4" height="6"/>
<text class="q K" transform="translate(728,700) rotate(90)">qPHFB1-AZ20-1</text>

<text class="t" x="750" y="632.5">IA23 Chr09D</text><text class="r" x="834.3" y="632.5">(41 - 1 Mb)</text>
<rect class="ch" x="772.5" y="644.5" width="7" height="186.5" rx="3.5"/>
<text class="n"><tspan x="763.3" y="650.7">0.0</tspan><tspan x="763.3" y="659.7">4.0</tspan><tspan x="763.3" y="674.7">15.6</tspan><tspan x="763.3" y="683.7">21.3</tspan><tspan x="763.3" y="692.3">22.4</tspan><tspan x="763.3" y="701">23.3</tspan><tspan x="763.3" y="709.7">33.6</tspan><tspan x="763.3" y="718">35.1</tspan><tspan x="763.3" y="726.7">39.0</tspan><tspan x="763.3" y="735.3">39.2</tspan><tspan x="763.3" y="743.7">40.7</tspan><tspan x="763.3" y="754.7">50.0</tspan><tspan x="763.3" y="763.7">55.7</tspan><tspan x="763.3" y="772.3">56.9</tspan><tspan x="763.3" y="830.7">86.3</tspan></text>
<text class="m"><tspan x="789.3" y="650.7">c4_15967</tspan><tspan x="789.3" y="659.7">EST1D_12374</tspan><tspan x="789.3" y="674.7">EST1D_30997_01_542</tspan><tspan x="789.3" y="683.7">c2_67586</tspan><tspan x="789.3" y="692.3">c2_03579</tspan><tspan x="789.3" y="701">ck_57041</tspan><tspan x="789.3" y="709.7">GS1D_53810p1475q16</tspan><tspan x="789.3" y="718">c4_54518</tspan><tspan x="789.3" y="726.7">ck_03448</tspan><tspan x="789.3" y="735.3">c2_10958</tspan><tspan x="789.3" y="743.7">ck_77717</tspan><tspan x="789.3" y="754.7">c3_66591</tspan><tspan x="789.3" y="763.7">c4_51260</tspan><tspan x="789.3" y="772.3">c4_101926</tspan><tspan x="789.3" y="830.7">c4_09929</tspan></text>
<path class="wk" stroke="#ff22ff" d="M877.8 755V766.7M875.3 755H880.3M875.3 766.7H880.3"/>
<rect class="M" x="875.7" y="759.3" width="4.3" height="4.7"/>
<text class="q M" transform="translate(882,761) rotate(90)">qFine-IA23-1</text>
<text class="f" x="732" y="855">Plant Architecture (1);  Fiber Quality (1)</text>
</g>

<!-- IA30 -->
<g id="p-ia30">
<rect class="bd" x="911.7" y="655" width="218.3" height="215" stroke="#9a9a9a"/>
<text class="t" x="931.7" y="674">IA30 Chr10D</text><text class="r" x="1021" y="674">(63 - 14 Mb)</text>
<rect class="ch" x="946.5" y="692.5" width="7" height="126.5" rx="3.5"/>
<text class="n"><tspan x="937.3" y="699.3">0.0</tspan><tspan x="937.3" y="723.7">14.5</tspan><tspan x="937.3" y="733">19.7</tspan><tspan x="937.3" y="742.3">21.3</tspan><tspan x="937.3" y="752">24.1</tspan><tspan x="937.3" y="761.3">24.5</tspan><tspan x="937.3" y="770.7">27.7</tspan><tspan x="937.3" y="780">29.7</tspan><tspan x="937.3" y="789.7">37.8</tspan><tspan x="937.3" y="799">39.4</tspan><tspan x="937.3" y="808.7">41.8</tspan><tspan x="937.3" y="818.3">47.3</tspan></text>
<text class="m"><tspan x="961" y="699.3">GS1D_35377p470q22</tspan><tspan x="961" y="723.7">ck_01124</tspan><tspan x="961" y="733">c4_54688</tspan><tspan x="961" y="742.3">ck_51389</tspan><tspan x="961" y="752">ck_07710</tspan><tspan x="961" y="761.3">GS1_11360p399q15</tspan><tspan x="961" y="770.7">c4_68073</tspan><tspan x="961" y="780">c4_35467</tspan><tspan x="961" y="789.7">c4_38839</tspan><tspan x="961" y="799">c4_06280</tspan><tspan x="961" y="808.7">c4_47698</tspan><tspan x="961" y="818.3">c4_103648</tspan></text>
<path class="wk" stroke="#000" d="M1058.6 694.3V724M1055.6 694.3H1061.6M1055.6 724H1061.6"/>
<rect class="K" x="1055" y="704.3" width="7.3" height="12.4"/>
<text class="q K" transform="translate(1064,709) rotate(90)">qFB1-IA30-1</text>
<rect class="G" x="1078.3" y="749.3" width="7" height="22.4"/>
<text class="q G" transform="translate(1087,761) rotate(90)">qLnCV-IA30-1</text>
<rect class="G" x="1101.7" y="749.3" width="7.3" height="22.4"/>
<text class="q G" transform="translate(1110.5,760) rotate(90)">qL5n-IA30-1</text>
<text class="f" x="1010" y="846">Fiber Length (2);</text>
<text class="f" x="1017.5" y="863">Plant Architecture (1)</text>
</g>

<!-- IA31 -->
<g id="p-ia31">
<rect class="bd" x="1140" y="662.7" width="174.3" height="205.6" stroke="#111"/>
<text class="t" x="1147.3" y="683.5">IA31 Chr06D</text><text class="r" x="1233.3" y="683.5">(65 Mb - 57 Mb)</text>
<rect class="ch" x="1190.8" y="704.5" width="7" height="109" rx="3.5"/>
<text class="n"><tspan x="1180" y="707.3">0.0</tspan><tspan x="1180" y="716.3">1.0</tspan><tspan x="1180" y="734">10.6</tspan><tspan x="1180" y="747">18.4</tspan><tspan x="1180" y="755">18.6</tspan><tspan x="1180" y="764">21.3</tspan><tspan x="1180" y="780.7">32.6</tspan><tspan x="1180" y="789.7">34.0</tspan><tspan x="1180" y="798.7">38.3</tspan><tspan x="1180" y="813.3">45.7</tspan></text>
<text class="m"><tspan x="1208" y="707.3">EST1D_32193_01</tspan><tspan x="1208" y="716.3">ck_15073</tspan><tspan x="1208" y="734">EST1D_18263</tspan><tspan x="1208" y="747">M626</tspan><tspan x="1208" y="755">M51</tspan><tspan x="1208" y="764">EST1D_09108_01</tspan><tspan x="1208" y="780.7">c4_10294</tspan><tspan x="1208" y="789.7">c4_65202</tspan><tspan x="1208" y="798.7">EST1D_42236</tspan><tspan x="1208" y="813.3">EST1D_14_1412</tspan></text>
<rect class="K" x="1282.7" y="795.7" width="6.3" height="14.3"/>
<text class="q K" transform="translate(1290.5,800) rotate(90)">qSP-IA31-1</text>
<text class="f" x="1235" y="847">Plant Architecture (1)</text>
</g>

<!-- Chr11D -->
<g id="p-chr11d">
<path class="bd" stroke="#33dd33" d="M790 889H568.5V1252.7H790"/>
<path class="bd" stroke="#ee2020" d="M790 889H993.3V1252.7H790"/>
<text class="t" x="601" y="911">IA25 Chr11D</text><text class="r" x="683.3" y="911">(8 - 73 Mb)</text>
<rect class="ch" x="626.5" y="925.5" width="7" height="293" rx="3.5"/>
<text class="n"><tspan x="615.7" y="929.3">0.0</tspan><tspan x="615.7" y="938.7">1.5</tspan><tspan x="615.7" y="984.3">22.8</tspan><tspan x="615.7" y="1028">45.3</tspan><tspan x="615.7" y="1037.3">45.8</tspan><tspan x="615.7" y="1047">46.7</tspan><tspan x="615.7" y="1066.7">58.6</tspan><tspan x="615.7" y="1085.3">66.9</tspan><tspan x="615.7" y="1108.3">77.0</tspan><tspan x="615.7" y="1132.7">87.4</tspan><tspan x="615.7" y="1167.3">102.8</tspan><tspan x="615.7" y="1217.3">124.4</tspan></text>
<text class="m"><tspan x="644.3" y="929.3">c4_38231</tspan><tspan x="644.3" y="938.7">c4_13985</tspan><tspan x="644.3" y="984.3">c4_18678</tspan><tspan x="644.3" y="1028">c4_00602</tspan><tspan x="644.3" y="1037.3">c4_06564</tspan><tspan x="644.3" y="1047">c4_41050</tspan><tspan x="644.3" y="1066.7">GS2D_41103p205q20</tspan><tspan x="644.3" y="1085.3">c3_11416</tspan><tspan x="644.3" y="1108.3">GS1D_16639p444q33</tspan><tspan x="644.3" y="1132.7">ck_36210</tspan><tspan x="644.3" y="1167.3">GS2D_55913p499q20</tspan><tspan x="644.3" y="1217.3">EST1D_31942_01_643</tspan></text>
<rect class="G" x="738.3" y="1045.7" width="7" height="33.3"/>
<text class="q G" transform="translate(747,1062) rotate(90)">qLw-IA25-1</text>
<rect class="G" x="761" y="1043.3" width="6.7" height="33.7"/>
<text class="q G" transform="translate(769.5,1060) rotate(90)">qUQLw-IA25-1</text>
<text class="f fs" x="601.7" y="1235">Fiber Length (2);</text>

<text class="t" x="801.7" y="911">AZ7 Chr11D</text><text class="r" x="880" y="911">(73 - 8 Mb)</text>
<rect class="ch" x="823.8" y="926.5" width="7" height="216.5" rx="3.5"/>
<text class="n"><tspan x="812.3" y="932.7">0.0</tspan><tspan x="812.3" y="968.7">18.0</tspan><tspan x="812.3" y="1010.3">38.8</tspan><tspan x="812.3" y="1032.3">49.7</tspan><tspan x="812.3" y="1050.3">63.1</tspan><tspan x="812.3" y="1059.7">63.3</tspan><tspan x="812.3" y="1069.7">63.8</tspan><tspan x="812.3" y="1079">65.8</tspan><tspan x="812.3" y="1088.3">73.5</tspan><tspan x="812.3" y="1099.3">83.4</tspan><tspan x="812.3" y="1131.7">99.3</tspan><tspan x="812.3" y="1142.7">104.8</tspan></text>
<text class="m"><tspan x="841.7" y="932.7">EST1D_31942_01_643</tspan><tspan x="841.7" y="968.7">GS2D_55913p499q20</tspan><tspan x="841.7" y="1010.3">ck_36210</tspan><tspan x="841.7" y="1032.3">GS1D_16639p444q33</tspan><tspan x="841.7" y="1050.3">c3_11416</tspan><tspan x="841.7" y="1059.7">c4_06564</tspan><tspan x="841.7" y="1069.7">c4_41050</tspan><tspan x="841.7" y="1079">c4_00602</tspan><tspan x="841.7" y="1088.3">GS2D_41103p205q20</tspan><tspan x="841.7" y="1099.3">c4_18678</tspan><tspan x="841.7" y="1131.7">c4_13985</tspan><tspan x="841.7" y="1142.7">c4_38231</tspan></text>
<path class="wk" stroke="#ff1a1a" d="M940.8 1094V1096.7M937.8 1094H943.8"/>
<rect class="R" x="937.3" y="1096.7" width="7" height="42.6"/>
<text class="q R" transform="translate(946,1116) rotate(90)">qTN-AZ7-1</text>
<rect class="R" x="960" y="1100" width="6.7" height="39.3"/>
<text class="q R" transform="translate(968.5,1116) rotate(90)">qNF-AZ7-1</text>
<text class="f" x="841" y="1177">Fruiting Habit (2)</text>
</g>

<!-- IA37 -->
<g id="p-ia37">
<rect class="bd" x="1002.3" y="895" width="184.4" height="143.3" stroke="#1a1a80"/>
<text class="t" x="1015.7" y="917.5">IA37 Chr12D</text><text class="r" x="1099" y="917.5">(62 - 101 Mb)</text>
<rect class="ch" x="1042.5" y="949" width="7" height="49" rx="3.5"/>
<text class="n"><tspan x="1030" y="956.3">0.0</tspan><tspan x="1030" y="997.3">17.1</tspan></text>
<text class="m"><tspan x="1061" y="956.3">c4_41113</tspan><tspan x="1061" y="997.3">GS2A_7310p1793q4A</tspan></text>
<rect class="N" x="1157.5" y="948.3" width="2.5" height="7.7"/>
<text class="q N" transform="translate(1162.5,952) rotate(90)">qCS-IA37-1</text>
<text class="f" x="1106" y="1028">Flower (1)</text>
</g>

<!-- AZ26 -->
<g id="p-az26">
<rect class="bd" x="1011" y="1064" width="160" height="180.7" stroke="#33dd33"/>
<text class="t" x="1020" y="1083">AZ26 Chr13D</text><text class="r" x="1105" y="1083">(10 - 58 Mb)</text>
<rect class="ch" x="1052.5" y="1125.5" width="7" height="56.5" rx="3.5"/>
<text class="n"><tspan x="1040" y="1111.7">0.0</tspan><tspan x="1040" y="1121.3">1.2</tspan><tspan x="1040" y="1130.7">2.8</tspan><tspan x="1040" y="1140">3.3</tspan><tspan x="1040" y="1149.7">5.0</tspan><tspan x="1040" y="1159">5.5</tspan><tspan x="1040" y="1168.3">7.7</tspan><tspan x="1040" y="1177.7">12.8</tspan><tspan x="1040" y="1187.3">14.7</tspan><tspan x="1040" y="1196.7">21.8</tspan><tspan x="1040" y="1206">23.7</tspan></text>
<text class="m"><tspan x="1067.7" y="1111.7">EST1D_01778</tspan><tspan x="1067.7" y="1121.3">c4_11191</tspan><tspan x="1067.7" y="1130.7">c4_18034</tspan><tspan x="1067.7" y="1140">c3_01023</tspan><tspan x="1067.7" y="1149.7">c2_79759</tspan><tspan x="1067.7" y="1159">c4_00395</tspan><tspan x="1067.7" y="1168.3">c4_39365</tspan><tspan x="1067.7" y="1177.7">c4_63317</tspan><tspan x="1067.7" y="1187.3">c2_56351</tspan><tspan x="1067.7" y="1196.7">c4_43125</tspan><tspan x="1067.7" y="1206">c2_58393</tspan></text>
<path class="wk" stroke="#22ee22" d="M1132.5 1134V1139M1129.5 1134H1135.5"/>
<rect class="G" x="1129.3" y="1139" width="6.4" height="39.7"/>
<text class="q G" transform="translate(1137.5,1155) rotate(90)">qL25n-AZ26-1</text>
<text class="f" x="1102" y="1228">Fiber Length (1)</text>
</g>

<!-- marker leader lines -->
<g id="connectors" class="ld">
<path id="ld-az30" d="M36.5 95.3H38.5L45.8 95.5H52.8L58.5 95.3H60.5M36.5 116.7H38.5L45.8 128.4H52.8L58.5 116.7H60.5M36.5 125.7H38.5L45.8 131.8H52.8L58.5 125.7H60.5M36.5 134.3H38.5L45.8 138.2H52.8L58.5 134.3H60.5M36.5 143.3H38.5L45.8 138.4H52.8L58.5 143.3H60.5M36.5 152H38.5L45.8 138.6H52.8L58.5 152H60.5M36.5 161H38.5L45.8 139H52.8L58.5 161H60.5M36.5 170.3H38.5L45.8 139.4H52.8L58.5 170.3H60.5M36.5 179.3H38.5L45.8 142.5H52.8L58.5 179.3H60.5M36.5 188.7H38.5L45.8 158.6H52.8L58.5 188.7H60.5M36.5 197.7H38.5L45.8 169.4H52.8L58.5 197.7H60.5M36.5 206.7H38.5L45.8 175.7H52.8L58.5 206.7H60.5M36.5 216H38.5L45.8 194.5H52.8L58.5 216H60.5M36.5 225.3H38.5L45.8 216H52.8L58.5 225.3H60.5"/>
<path id="ld-ia16" d="M239.5 100.7H241.5L249.5 112.5H256.5L264.5 100.7H266.5M239.5 110.7H241.5L249.5 117.8H256.5L264.5 110.7H266.5M239.5 120.7H241.5L249.5 119.4H256.5L264.5 120.7H266.5M239.5 130.7H241.5L249.5 120H256.5L264.5 130.7H266.5M239.5 140.7H241.5L249.5 120.3H256.5L264.5 140.7H266.5M239.5 150.7H241.5L249.5 121.6H256.5L264.5 150.7H266.5M239.5 160.7H241.5L249.5 135.2H256.5L264.5 160.7H266.5M239.5 171H241.5L249.5 160.7H256.5L264.5 171H266.5M239.5 181H241.5L249.5 161.8H256.5L264.5 181H266.5M239.5 191H241.5L249.5 167.9H256.5L264.5 191H266.5M239.5 201H241.5L249.5 171.5H256.5L264.5 201H266.5M239.5 211.7H241.5L249.5 193.1H256.5L264.5 211.7H266.5M239.5 222.3H241.5L249.5 215.3H256.5L264.5 222.3H266.5"/>
<path id="ld-ia6" d="M35.5 314.3H37.5L44.8 320H51.8L59.5 314.3H61.5M35.5 322.7H37.5L44.8 325H51.8L59.5 322.7H61.5M35.5 331.7H37.5L44.8 326.3H51.8L59.5 331.7H61.5M35.5 340.3H37.5L44.8 343.3H51.8L59.5 340.3H61.5M35.5 349.3H37.5L44.8 350.2H51.8L59.5 349.3H61.5M35.5 358H37.5L44.8 364.1H51.8L59.5 358H61.5M35.5 366.7H37.5L44.8 368.1H51.8L59.5 366.7H61.5M35.5 374.3H37.5L44.8 370.4H51.8L59.5 374.3H61.5M35.5 382.7H37.5L44.8 371.5H51.8L59.5 382.7H61.5M35.5 391H37.5L44.8 371.7H51.8L59.5 391H61.5M35.5 399.7H37.5L44.8 390.8H51.8L59.5 399.7H61.5M35.5 408H37.5L44.8 395.4H51.8L59.5 408H61.5M35.5 416.7H37.5L44.8 409.5H51.8L59.5 416.7H61.5M35.5 472.3H37.5L44.8 475.4H51.8L59.5 472.3H61.5M35.5 480.7H37.5L44.8 482.5H51.8L59.5 480.7H61.5M35.5 489.3H37.5L44.8 489.7H51.8L59.5 489.3H61.5"/>
<path id="ld-az5" d="M240.5 301.3H242.5L249.8 326H256.8L264.2 301.3H266.2M240.5 310H242.5L249.8 329.3H256.8L264.2 310H266.2M240.5 319.3H242.5L249.8 330.1H256.8L264.2 319.3H266.2M240.5 328.7H242.5L249.8 331.3H256.8L264.2 328.7H266.2M240.5 338H242.5L249.8 337.2H256.8L264.2 338H266.2M240.5 347.3H242.5L249.8 355.2H256.8L264.2 347.3H266.2M240.5 356.7H242.5L249.8 358.9H256.8L264.2 356.7H266.2M240.5 366H242.5L249.8 360.3H256.8L264.2 366H266.2M240.5 375.3H242.5L249.8 360.9H256.8L264.2 375.3H266.2M240.5 384.3H242.5L249.8 361.5H256.8L264.2 384.3H266.2M240.5 394H242.5L249.8 362.3H256.8L264.2 394H266.2M240.5 403.3H242.5L249.8 382.8H256.8L264.2 403.3H266.2M240.5 412.7H242.5L249.8 387H256.8L264.2 412.7H266.2M240.5 422.3H242.5L249.8 393.4H256.8L264.2 422.3H266.2M240.5 443.7H242.5L249.8 443.6H256.8L264.2 443.7H266.2M240.5 459H242.5L249.8 458.3H256.8L264.2 459H266.2M240.5 474.7H242.5L249.8 475.7H256.8L264.2 474.7H266.2"/>
<path id="ld-az16" d="M36.5 572.7H38.5L46.5 592H53.5L58.5 572.7H60.5M36.5 582H38.5L46.5 602.6H53.5L58.5 582H60.5M36.5 592H38.5L46.5 613.2H53.5L58.5 592H60.5M36.5 601.7H38.5L46.5 615.7H53.5L58.5 601.7H60.5M36.5 611.3H38.5L46.5 619.1H53.5L58.5 611.3H60.5M36.5 621H38.5L46.5 620.2H53.5L58.5 621H60.5M36.5 630.7H38.5L46.5 620.4H53.5L58.5 630.7H60.5M36.5 640.3H38.5L46.5 623.8H53.5L58.5 640.3H60.5M36.5 650H38.5L46.5 626.7H53.5L58.5 650H60.5M36.5 659.7H38.5L46.5 630.1H53.5L58.5 659.7H60.5M36.5 669.7H38.5L46.5 645H53.5L58.5 669.7H60.5M36.5 679.3H38.5L46.5 646.1H53.5L58.5 679.3H60.5M36.5 689H38.5L46.5 647.1H53.5L58.5 689H60.5M36.5 698.7H38.5L46.5 676.9H53.5L58.5 698.7H60.5M36.5 750.3H38.5L46.5 750.3H53.5L58.5 750.3H60.5"/>
<path id="ld-ia22" d="M245.5 575.7H247.5L255.2 575.7H262.2L270.8 575.7H272.8M245.5 640H247.5L255.2 640H262.2L270.8 640H272.8M245.5 655H247.5L255.2 654.8H262.2L270.8 655H272.8M245.5 691.7H247.5L255.2 710.7H262.2L270.8 691.7H272.8M245.5 701.7H247.5L255.2 719.8H262.2L270.8 701.7H272.8M245.5 711.7H247.5L255.2 720.3H262.2L270.8 711.7H272.8M245.5 721.3H247.5L255.2 720.5H262.2L270.8 721.3H272.8M245.5 731.3H247.5L255.2 731.5H262.2L270.8 731.3H272.8M245.5 741H247.5L255.2 739.9H262.2L270.8 741H272.8M245.5 751H247.5L255.2 746.3H262.2L270.8 751H272.8M245.5 761H247.5L255.2 749H262.2L270.8 761H272.8M245.5 771H247.5L255.2 753.5H262.2L270.8 771H272.8M245.5 780.7H247.5L255.2 755.4H262.2L270.8 780.7H272.8M245.5 790.7H247.5L255.2 760.4H262.2L270.8 790.7H272.8M245.5 800.7H247.5L255.2 788.7H262.2L270.8 800.7H272.8M245.5 810.3H247.5L255.2 792H262.2L270.8 810.3H272.8M245.5 820.3H247.5L255.2 799.9H262.2L270.8 820.3H272.8M245.5 835H247.5L255.2 834.3H262.2L270.8 835H272.8"/>
<path id="ld-az23" d="M44.5 895H46.5L53.8 895H60.8L68.2 895H70.2M44.5 923H46.5L53.8 928.8H60.8L68.2 923H70.2M44.5 932H46.5L53.8 935.9H60.8L68.2 932H70.2M44.5 941H46.5L53.8 943.6H60.8L68.2 941H70.2M44.5 950.3H46.5L53.8 947.4H60.8L68.2 950.3H70.2M44.5 959.3H46.5L53.8 954.3H60.8L68.2 959.3H70.2M44.5 968.7H46.5L53.8 955.6H60.8L68.2 968.7H70.2M44.5 977.7H46.5L53.8 972.3H60.8L68.2 977.7H70.2M44.5 990.7H46.5L53.8 990.8H60.8L68.2 990.7H70.2M44.5 1002.3H46.5L53.8 1002.4H60.8L68.2 1002.3H70.2"/>
<path id="ld-ia1" d="M273.5 889.3H275.5L281.5 892.5H288.5L295.5 889.3H297.5M273.5 898.3H275.5L281.5 894.4H288.5L295.5 898.3H297.5M273.5 953H275.5L281.5 953H288.5L295.5 953H297.5M297.5 949V957M273.5 989H275.5L281.5 989H288.5L295.5 989H297.5M273.5 1030.3H275.5L281.5 1033.9H288.5L295.5 1030.3H297.5M273.5 1039.3H275.5L281.5 1036.3H288.5L295.5 1039.3H297.5"/>
<path id="ld-ia2" d="M278.5 1086H280.5L287.2 1091.4H294.2L301.5 1086H303.5M278.5 1095H280.5L287.2 1094.5H294.2L301.5 1095H303.5M278.5 1104.3H280.5L287.2 1099H294.2L301.5 1104.3H303.5M278.5 1135.3H280.5L287.2 1135.3H294.2L301.5 1135.3H303.5M278.5 1172H280.5L287.2 1172.2H294.2L301.5 1172H303.5M278.5 1247.7H280.5L287.2 1247.7H294.2L301.5 1247.7H303.5"/>
<path id="ld-az13" d="M597.5 105H599.5L605.5 128H612.5L617.5 105H619.5M597.5 114.3H599.5L605.5 129.6H612.5L617.5 114.3H619.5M597.5 125.7H599.5L605.5 132.8H612.5L617.5 125.7H619.5M597.5 135.7H599.5L605.5 133.8H612.5L617.5 135.7H619.5M597.5 145H599.5L605.5 134.6H612.5L617.5 145H619.5M597.5 155H599.5L605.5 142.6H612.5L617.5 155H619.5M597.5 164.3H599.5L605.5 144.2H612.5L617.5 164.3H619.5M597.5 173.7H599.5L605.5 146.4H612.5L617.5 173.7H619.5M597.5 197H599.5L605.5 196.8H612.5L617.5 197H619.5"/>
<path id="ld-ia20" d="M839.5 109.7H841.5L848.5 110H855.5L862.5 109.7H864.5M839.5 118.7H841.5L848.5 114H855.5L862.5 118.7H864.5M839.5 130.7H841.5L848.5 127.9H855.5L862.5 130.7H864.5M839.5 145H841.5L848.5 146.9H855.5L862.5 145H864.5M839.5 153.7H841.5L848.5 147.4H855.5L862.5 153.7H864.5M839.5 163H841.5L848.5 158H855.5L862.5 163H864.5M839.5 172.3H841.5L848.5 164.1H855.5L862.5 172.3H864.5M839.5 201.7H841.5L848.5 201.9H855.5L862.5 201.7H864.5"/>
<path id="ld-az21" d="M1059.5 105.7H1061.5L1069.5 111H1076.5L1081.5 105.7H1083.5M1059.5 115H1061.5L1069.5 121.5H1076.5L1081.5 115H1083.5M1059.5 124H1061.5L1069.5 124.6H1076.5L1081.5 124H1083.5M1059.5 133H1061.5L1069.5 128.3H1076.5L1081.5 133H1083.5M1059.5 142H1061.5L1069.5 130.8H1076.5L1081.5 142H1083.5M1059.5 151H1061.5L1069.5 142.2H1076.5L1081.5 151H1083.5M1059.5 160H1061.5L1069.5 152.1H1076.5L1081.5 160H1083.5M1059.5 169.3H1061.5L1069.5 159.1H1076.5L1081.5 169.3H1083.5M1059.5 178.3H1061.5L1069.5 171.5H1076.5L1081.5 178.3H1083.5M1059.5 201.7H1061.5L1069.5 202.2H1076.5L1081.5 201.7H1083.5"/>
<path id="ld-ia14" d="M605.8 328.3H607.3L611.5 358.5H618.5L625.5 328.3H627.5M605.8 338H607.3L611.5 369.1H618.5L625.5 338H627.5M605.8 347.7H607.3L611.5 378.4H618.5L625.5 347.7H627.5M605.8 357.3H607.3L611.5 386.7H618.5L625.5 357.3H627.5M605.8 367H607.3L611.5 396.2H618.5L625.5 367H627.5M605.8 376.3H607.3L611.5 396.4H618.5L625.5 376.3H627.5M605.8 386H607.3L611.5 398H618.5L625.5 386H627.5M605.8 395.7H607.3L611.5 404H618.5L625.5 395.7H627.5M605.8 405.3H607.3L611.5 420H618.5L625.5 405.3H627.5M605.8 420.3H607.3L611.5 426.6H618.5L626.5 420.3M627 411.5V428.5M605.8 433.7H607.3L611.5 426.9H618.5L625.5 433.7H627.5M605.8 443.3H607.3L611.5 430.3H618.5L625.5 443.3H627.5M605.8 453H607.3L611.5 432.7H618.5L625.5 453H627.5M605.8 462.3H607.3L611.5 434.3H618.5L625.5 462.3H627.5M605.8 472.3H607.3L611.5 449.3H618.5L625.5 472.3H627.5M605.8 482H607.3L611.5 451.8H618.5L625.5 482H627.5M605.8 498.7H607.3L611.5 498.7H618.5L625.5 498.7H627.5M605.8 545H607.3L611.5 545H618.5L625.5 545H627.5"/>
<path id="ld-az14" d="M765.8 340.7H767.8L772.2 354H779.2L785.5 340.7H787.5M765.8 349.3H767.8L772.2 396.2H779.2L785.5 349.3H787.5M765.8 358.3H767.8L772.2 446.8H779.2L785.5 358.3H787.5M765.8 367.7H767.8L772.2 459.8H779.2L785.5 367.7H787.5M765.8 377H767.8L772.2 462.2H779.2L785.5 377H787.5M765.8 386H767.8L772.2 464.2H779.2L785.5 386H787.5M765.8 395.3H767.8L772.2 465H779.2L785.5 395.3H787.5M765.8 404.7H767.8L772.2 465.6H779.2L785.5 404.7H787.5M765.8 413.7H767.8L772.2 466.2H779.2L785.5 413.7H787.5M765.8 422.7H767.8L772.2 467.6H779.2L785.5 422.7H787.5M765.8 432H767.8L772.2 469H779.2L785.5 432H787.5M765.8 441.3H767.8L772.2 469.2H779.2L785.5 441.3H787.5M765.8 450.7H767.8L772.2 469.6H779.2L785.5 450.7H787.5M765.8 459.7H767.8L772.2 470.6H779.2L785.5 459.7H787.5M765.8 469H767.8L772.2 471H779.2L785.5 469H787.5M765.8 478.3H767.8L772.2 472.2H779.2L785.5 478.3H787.5M765.8 487.7H767.8L772.2 472.8H779.2L785.5 487.7H787.5M765.8 497H767.8L772.2 475H779.2L785.5 497H787.5M765.8 506H767.8L772.2 476.6H779.2L785.5 506H787.5M765.8 515.3H767.8L772.2 493H779.2L785.5 515.3H787.5M765.8 524.3H767.8L772.2 511.2H779.2L785.5 524.3H787.5M765.8 533.7H767.8L772.2 522.4H779.2L785.5 533.7H787.5"/>
<path id="ld-ia29" d="M963.8 332.3H965.8L971.5 332.3H978.5L986.5 332.3H988.5M963.8 341.7H965.8L971.5 341.7H978.5L986.5 341.7H988.5"/>
<path id="ld-ia27" d="M963.8 416H965.8L974.8 416H981.8L989.2 416H991.2M963.8 440.3H965.8L974.8 442.3H981.8L989.2 440.3H991.2M963.8 449.7H965.8L974.8 447.4H981.8L989.2 449.7H991.2M963.8 478.3H965.8L974.8 478.2H981.8L989.2 478.3H991.2M963.8 517.3H965.8L974.8 517.2H981.8L989.2 517.3H991.2M963.8 581.7H965.8L974.8 581.7H981.8L989.2 581.7H991.2"/>
<path id="ld-az12" d="M1151.5 328.3H1153.5L1159.2 328.3H1166.2L1172.2 328.3H1174.2M1151.5 387.7H1153.5L1159.2 387.4H1166.2L1172.2 387.7H1174.2M1151.5 403.3H1153.5L1159.2 403.7H1166.2L1172.2 403.3H1174.2M1151.5 412H1153.5L1159.2 411.7H1166.2L1172.2 412H1174.2M1151.5 433H1153.5L1159.2 433.2H1166.2L1172.2 433H1174.2M1151.5 442.7H1153.5L1159.2 442.7H1166.2L1172.2 442.7H1174.2M1151.5 457H1153.5L1159.2 456.6H1166.2L1172.2 457H1174.2M1151.5 477.7H1153.5L1159.2 477.4H1166.2L1172.2 477.7H1174.2M1151.5 494.3H1153.5L1159.2 494.2H1166.2L1172.2 494.3H1174.2M1151.5 504.3H1153.5L1159.2 505.9H1166.2L1172.2 504.3H1174.2M1151.5 513.3H1153.5L1159.2 511.6H1166.2L1172.2 513.3H1174.2M1151.5 549.3H1153.5L1159.2 549.2H1166.2L1172.2 549.3H1174.2M1151.5 587.3H1153.5L1159.2 587H1166.2L1172.2 587.3H1174.2"/>
<path id="ld-az20" d="M609.2 652.3H611.2L617.2 652H624.2L629.8 652.3H631.8M609.2 664.3H611.2L617.2 687.3H624.2L629.8 664.3H631.8M609.2 673.3H611.2L617.2 702.2H624.2L629.8 673.3H631.8M609.2 682H611.2L617.2 707.2H624.2L629.8 682H631.8M609.2 690.7H611.2L617.2 708H624.2L629.8 690.7H631.8M609.2 699.7H611.2L617.2 709.1H624.2L629.8 699.7H631.8M609.2 708.7H611.2L617.2 709.7H624.2L629.8 708.7H631.8M609.2 717.7H611.2L617.2 716.9H624.2L629.8 717.7H631.8M609.2 726.3H611.2L617.2 719.3H624.2L629.8 726.3H631.8M609.2 735.3H611.2L617.2 738.1H624.2L629.8 735.3H631.8M609.2 744.3H611.2L617.2 741.5H624.2L629.8 744.3H631.8M609.2 753H611.2L617.2 744.4H624.2L629.8 753H631.8M609.2 762H611.2L617.2 752.4H624.2L629.8 762H631.8M609.2 770.7H611.2L617.2 753.7H624.2L629.8 770.7H631.8M609.2 779.7H611.2L617.2 759.9H624.2L629.8 779.7H631.8"/>
<path id="ld-ia23" d="M764.8 647.7H766.8L772.5 647.7H779.5L785.8 647.7H787.8M764.8 656.7H766.8L772.5 656H779.5L785.8 656.7H787.8M764.8 671.7H766.8L772.5 680.2H779.5L785.8 671.7H787.8M764.8 680.7H766.8L772.5 692.1H779.5L785.8 680.7H787.8M764.8 689.3H766.8L772.5 694.4H779.5L785.8 689.3H787.8M764.8 698H766.8L772.5 696.3H779.5L785.8 698H787.8M764.8 706.7H766.8L772.5 717.8H779.5L785.8 706.7H787.8M764.8 715H766.8L772.5 720.9H779.5L785.8 715H787.8M764.8 723.7H766.8L772.5 729H779.5L785.8 723.7H787.8M764.8 732.3H766.8L772.5 729.5H779.5L785.8 732.3H787.8M764.8 740.7H766.8L772.5 732.6H779.5L785.8 740.7H787.8M764.8 751.7H766.8L772.5 752H779.5L785.8 751.7H787.8M764.8 760.7H766.8L772.5 763.9H779.5L785.8 760.7H787.8M764.8 769.3H766.8L772.5 766.4H779.5L785.8 769.3H787.8M764.8 827.7H766.8L772.5 827.7H779.5L785.8 827.7H787.8"/>
<path id="ld-ia30" d="M938.8 696.3H940.8L946.5 696.3H953.5L957.5 696.3H959.5M938.8 720.7H940.8L946.5 732.7H953.5L957.5 720.7H959.5M938.8 730H940.8L946.5 745.7H953.5L957.5 730H959.5M938.8 739.3H940.8L946.5 749.8H953.5L957.5 739.3H959.5M938.8 749H940.8L946.5 756.8H953.5L957.5 749H959.5M938.8 758.3H940.8L946.5 757.8H953.5L957.5 758.3H959.5M938.8 767.7H940.8L946.5 765.8H953.5L957.5 767.7H959.5M938.8 777H940.8L946.5 770.8H953.5L957.5 777H959.5M938.8 786.7H940.8L946.5 791.2H953.5L957.5 786.7H959.5M938.8 796H940.8L946.5 795.2H953.5L957.5 796H959.5M938.8 805.7H940.8L946.5 801.2H953.5L957.5 805.7H959.5M938.8 815.3H940.8L946.5 815H953.5L957.5 815.3H959.5"/>
<path id="ld-ia31" d="M1181.5 704.3H1183.5L1190.8 708H1197.8L1204.5 704.3H1206.5M1181.5 713.3H1183.5L1190.8 710.2H1197.8L1204.5 713.3H1206.5M1181.5 731H1183.5L1190.8 731.6H1197.8L1204.5 731H1206.5M1181.5 744H1183.5L1190.8 749H1197.8L1204.5 744H1206.5M1181.5 752H1183.5L1190.8 749.5H1197.8L1204.5 752H1206.5M1181.5 761H1183.5L1190.8 755.5H1197.8L1204.5 761H1206.5M1181.5 777.7H1183.5L1190.8 780.7H1197.8L1204.5 777.7H1206.5M1181.5 786.7H1183.5L1190.8 783.8H1197.8L1204.5 786.7H1206.5M1181.5 795.7H1183.5L1190.8 793.4H1197.8L1204.5 795.7H1206.5M1181.5 810.3H1183.5L1190.8 809.9H1197.8L1204.5 810.3H1206.5"/>
<path id="ld-ia25" d="M617.2 926.3H619.2L626.5 929H633.5L640.8 926.3H642.8M617.2 935.7H619.2L626.5 932.4H633.5L640.8 935.7H642.8M617.2 981.3H619.2L626.5 981.3H633.5L640.8 981.3H642.8M617.2 1025H619.2L626.5 1032.9H633.5L640.8 1025H642.8M617.2 1034.3H619.2L626.5 1034H633.5L640.8 1034.3H642.8M617.2 1044H619.2L626.5 1036.1H633.5L640.8 1044H642.8M617.2 1063.7H619.2L626.5 1063.4H633.5L640.8 1063.7H642.8M617.2 1082.3H619.2L626.5 1082.4H633.5L640.8 1082.3H642.8M617.2 1105.3H619.2L626.5 1105.6H633.5L640.8 1105.3H642.8M617.2 1129.7H619.2L626.5 1129.4H633.5L640.8 1129.7H642.8M617.2 1164.3H619.2L626.5 1164.7H633.5L640.8 1164.3H642.8M617.2 1214.3H619.2L626.5 1214.3H633.5L640.8 1214.3H642.8"/>
<path id="ld-az7" d="M813.8 929.7H815.8L823.8 929.7H830.8L838.2 929.7H840.2M813.8 965.7H815.8L823.8 965.8H830.8L838.2 965.7H840.2M813.8 1007.3H815.8L823.8 1007.5H830.8L838.2 1007.3H840.2M813.8 1029.3H815.8L823.8 1029.3H830.8L838.2 1029.3H840.2M813.8 1047.3H815.8L823.8 1056.2H830.8L838.2 1047.3H840.2M813.8 1056.7H815.8L823.8 1056.6H830.8L838.2 1056.7H840.2M813.8 1066.7H815.8L823.8 1057.6H830.8L838.2 1066.7H840.2M813.8 1076H815.8L823.8 1061.6H830.8L838.2 1076H840.2M813.8 1085.3H815.8L823.8 1077H830.8L838.2 1085.3H840.2M813.8 1096.3H815.8L823.8 1096.8H830.8L838.2 1096.3H840.2M813.8 1128.7H815.8L823.8 1128.7H830.8L838.2 1128.7H840.2M813.8 1139.7H815.8L823.8 1139.7H830.8L838.2 1139.7H840.2"/>
<path id="ld-ia37" d="M1031.5 953.3H1033.5L1042.5 953.3H1049.5L1057.5 953.3H1059.5M1031.5 994.3H1033.5L1042.5 994.3H1049.5L1057.5 994.3H1059.5"/>
<path id="ld-az26" d="M1041.5 1108.7H1043.5L1052.5 1129H1059.5L1064.2 1108.7H1066.2M1041.5 1118.3H1043.5L1052.5 1131.5H1059.5L1064.2 1118.3H1066.2M1041.5 1127.7H1043.5L1052.5 1134.8H1059.5L1064.2 1127.7H1066.2M1041.5 1137H1043.5L1052.5 1135.8H1059.5L1064.2 1137H1066.2M1041.5 1146.7H1043.5L1052.5 1139.4H1059.5L1064.2 1146.7H1066.2M1041.5 1156H1043.5L1052.5 1140.4H1059.5L1064.2 1156H1066.2M1041.5 1165.3H1043.5L1052.5 1144.9H1059.5L1064.2 1165.3H1066.2M1041.5 1174.7H1043.5L1052.5 1155.5H1059.5L1064.2 1174.7H1066.2M1041.5 1184.3H1043.5L1052.5 1159.4H1059.5L1064.2 1184.3H1066.2M1041.5 1193.7H1043.5L1052.5 1174.1H1059.5L1064.2 1193.7H1066.2M1041.5 1203H1043.5L1052.5 1178.1H1059.5L1064.2 1203H1066.2"/>
</g>
</svg>
